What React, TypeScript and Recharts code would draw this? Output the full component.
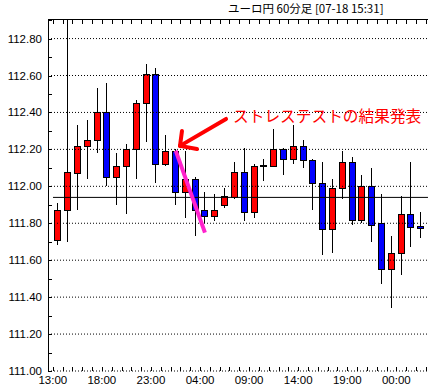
import React from 'react'
import { ComposedChart, Bar, XAxis, YAxis, ReferenceLine, ReferenceDot } from 'recharts'

// ユーロ円 60分足, one candle per hour
const times = [
  '13:00', '14:00', '15:00', '16:00', '17:00', '18:00', '19:00', '20:00', '21:00', '22:00',
  '23:00', '00:00', '01:00', '02:00', '03:00', '04:00', '05:00', '06:00', '07:00', '08:00',
  '09:00', '10:00', '11:00', '12:00', '13:00', '14:00', '15:00', '16:00', '17:00', '18:00',
  '19:00', '20:00', '21:00', '22:00', '23:00', '00:00', '01:00', '02:00',
]
const opens = [
  111.71, 111.87, 112.07, 112.22, 112.25, 112.40, 112.05, 112.11, 112.20, 112.45,
  112.61, 112.12, 112.19, 111.97, 112.04, 111.87, 111.84, 111.90, 111.94, 112.08,
  111.86, 112.11, 112.11, 112.20, 112.15, 112.22, 112.14, 112.02, 111.77, 111.99,
  112.13, 111.82, 112.00, 111.80, 111.55, 111.64, 111.85, 111.785,
]
const closes = [
  111.87, 112.08, 112.22, 112.25, 112.40, 112.05, 112.11, 112.20, 112.45, 112.61,
  112.12, 112.19, 111.97, 112.04, 111.87, 111.84, 111.87, 111.95, 112.08, 111.86,
  112.11, 112.115, 112.20, 112.15, 112.22, 112.14, 112.02, 111.77, 111.99, 112.13,
  111.82, 112.00, 111.79, 111.55, 111.64, 111.85, 111.78, 111.775,
]
const highs = [
  111.91, 112.906, 112.33, 112.36, 112.53, 112.56, 112.18, 112.23, 112.47, 112.66,
  112.64, 112.28, 112.20, 112.19, 112.05, 111.97, 111.96, 111.99, 112.13, 112.21,
  112.12, 112.15, 112.31, 112.21, 112.33, 112.25, 112.15, 112.13, 112.04, 112.19,
  112.16, 112.06, 112.10, 111.96, 111.73, 111.95, 112.13, 111.86,
]
const lows = [
  111.68, 111.70, 111.87, 112.04, 112.18, 112.00, 111.90, 111.85, 112.04, 112.24,
  112.02, 112.11, 111.90, 111.83, 111.73, 111.80, 111.81, 111.88, 111.93, 111.81,
  111.83, 112.03, 112.11, 112.06, 112.12, 112.10, 111.87, 111.63, 111.64, 111.93,
  111.79, 111.80, 111.70, 111.47, 111.34, 111.52, 111.67, 111.72,
]

const xLabels = ['13:00', '18:00', '23:00', '04:00', '09:00', '14:00', '19:00', '00:00']
const xLabelPos = [-0.5, 4.5, 9.5, 14.5, 19.5, 24.5, 29.5, 34.5]
const yTicks = [
  111.0, 111.1, 111.2, 111.3, 111.4, 111.5, 111.6, 111.7, 111.8, 111.9,
  112.0, 112.1, 112.2, 112.3, 112.4, 112.5, 112.6, 112.7, 112.8, 112.9,
]
const gridValues = [111.2, 111.4, 111.6, 111.8, 112.0, 112.2, 112.4, 112.6, 112.8]
const baseLine = 111.94

const data = times.map((t, i) => ({
  idx: i,
  time: t + '#' + i,
  open: opens[i],
  close: closes[i],
  high: highs[i],
  low: lows[i],
  range: [lows[i], highs[i]],
}))

// slot boundaries for the small tick marks
const slotTicks = Array.from({ length: times.length + 1 }, (_, i) => i - 0.5)

const xDomain = [-0.988, 37.723]
const yDomain = [111, 112.906]
const numFont = '"Liberation Sans", Arial, sans-serif'

const Candle = (props: any) => {
  const { x, y, width, height, payload } = props
  const { open, close, high, low } = payload
  const top = Math.min(y, y + height)
  const k = high - low > 0 ? Math.abs(height) / (high - low) : 0
  const cx = Math.round(x + width / 2) + 0.5
  const bTop = Math.round(top + (high - Math.max(open, close)) * k) + 0.5
  const bBot = Math.round(top + (high - Math.min(open, close)) * k) + 0.5
  const up = close >= open
  return (
    <g shapeRendering="crispEdges">
      <line x1={cx} x2={cx} y1={top} y2={top + Math.abs(height)} stroke="#000" />
      {bBot - bTop < 1 ? (
        <line x1={cx - 3} x2={cx + 3} y1={bTop} y2={bTop} stroke="#000" />
      ) : (
        <rect x={cx - 3} y={bTop} width={6} height={bBot - bTop} fill={up ? '#ff0000' : '#0000ff'} stroke="#000" />
      )}
    </g>
  )
}

const px = (v: number) => Math.round(v) + 0.5

const YTickMark = (value: number) => (props: any) => {
  const major = Math.round(value * 10) % 2 === 0
  const y = px(props.cy)
  return (
    <g>
      <line x1={props.cx} x2={props.cx + 4} y1={y} y2={y} stroke="#000" shapeRendering="crispEdges" />
      {major && (
        <text x={props.cx - 6} y={props.cy} textAnchor="end" dominantBaseline="central"
          fontSize={11.5} fontFamily={numFont} fill="#000">
          {value.toFixed(2)}
        </text>
      )}
    </g>
  )
}

const BottomTickMark = (props: any) => {
  const x = px(props.cx)
  return <line x1={x} x2={x} y1={props.cy} y2={props.cy - 4} stroke="#000" shapeRendering="crispEdges" />
}

const TopTickMark = (props: any) => {
  const x = px(props.cx)
  return <line x1={x} x2={x} y1={props.cy} y2={props.cy + 5} stroke="#000" shapeRendering="crispEdges" />
}

const XLabel = (label: string) => (props: any) => (
  <text x={props.cx} y={props.cy + 9} textAnchor="middle" dominantBaseline="central"
    fontSize={11.5} fontFamily={numFont} fill="#000">
    {label}
  </text>
)

const NoteText = (props: any) => (
  <text x={props.cx} y={props.cy} dominantBaseline="central" fontSize={15.7}
    fontFamily='"Noto Sans CJK JP", sans-serif' fill="#ff0000">
    ストレステストの結果発表
  </text>
)

export default function App() {
  return (
    <div style={{ position: 'absolute', left: 0, top: 0, width: 428, height: 391, background: '#fff' }}>
      <div style={{ position: 'absolute', left: 228, top: 0, fontSize: 11.5, lineHeight: '16px',
        fontFamily: '"Noto Sans CJK JP", sans-serif', whiteSpace: 'nowrap', color: '#000' }}>
        ユーロ円 60分足 [07-18 15:31]
      </div>
      <ComposedChart width={428} height={391} data={data} margin={{ top: 19, right: 0, bottom: 0, left: 0 }}>
        <XAxis xAxisId="cat" dataKey="time" type="category" hide padding={{ left: 4.8, right: 2.4 }} />
        <XAxis xAxisId="num" dataKey="idx" type="number" domain={xDomain} allowDataOverflow height={20}
          tick={false} tickLine={false} axisLine={false} />
        <YAxis type="number" domain={yDomain} allowDataOverflow width={48}
          tick={false} tickLine={false} axisLine={false} />

        {gridValues.map((v) => (
          <ReferenceLine key={'g' + v} xAxisId="num" y={v} stroke="#000" strokeDasharray="1 2" />
        ))}
        <ReferenceLine xAxisId="num" y={111} stroke="#000" strokeDasharray="1 2" ifOverflow="visible" />

        <Bar xAxisId="cat" dataKey="range" barSize={7} shape={<Candle />} isAnimationActive={false} />

        <ReferenceLine xAxisId="num" segment={[{ x: -0.48, y: baseLine }, { x: 37.72, y: baseLine }]} stroke="#000" />

        {/* plot frame: left and top */}
        <ReferenceLine xAxisId="num" x={xDomain[0]} stroke="#000" ifOverflow="visible" shapeRendering="crispEdges" />
        <ReferenceLine xAxisId="num" y={yDomain[1]} stroke="#000" ifOverflow="visible" shapeRendering="crispEdges" />

        {slotTicks.map((s) => (
          <ReferenceDot key={'t' + s} xAxisId="num" x={s} y={yDomain[1]} r={0} ifOverflow="visible" shape={<TopTickMark />} />
        ))}
        {slotTicks.map((s) => (
          <ReferenceDot key={'b' + s} xAxisId="num" x={s} y={yDomain[0]} r={0} ifOverflow="visible" shape={<BottomTickMark />} />
        ))}
        {xLabelPos.map((s, i) => (
          <ReferenceDot key={'l' + s} xAxisId="num" x={s} y={yDomain[0]} r={0} ifOverflow="visible" shape={XLabel(xLabels[i])} />
        ))}
        {yTicks.map((v) => (
          <ReferenceDot key={'y' + v} xAxisId="num" x={xDomain[0]} y={v} r={0} ifOverflow="visible" shape={YTickMark(v)} />
        ))}

        <ReferenceLine xAxisId="num" segment={[{ x: 12.02, y: 112.193 }, { x: 15.0, y: 111.749 }]}
          stroke="#ff22cc" strokeWidth={4} />
        <ReferenceLine xAxisId="num" segment={[{ x: 12.46, y: 112.219 }, { x: 17.15, y: 112.365 }]}
          stroke="#ff0000" strokeWidth={4} strokeLinecap="round" />
        <ReferenceLine xAxisId="num" segment={[{ x: 12.46, y: 112.219 }, { x: 12.66, y: 112.30 }]}
          stroke="#ff0000" strokeWidth={4} strokeLinecap="round" />
        <ReferenceLine xAxisId="num" segment={[{ x: 12.46, y: 112.219 }, { x: 14.19, y: 112.202 }]}
          stroke="#ff0000" strokeWidth={4} strokeLinecap="round" />
        <ReferenceDot xAxisId="num" x={17.86} y={112.386} r={0} shape={<NoteText />} />
      </ComposedChart>
    </div>
  )
}
